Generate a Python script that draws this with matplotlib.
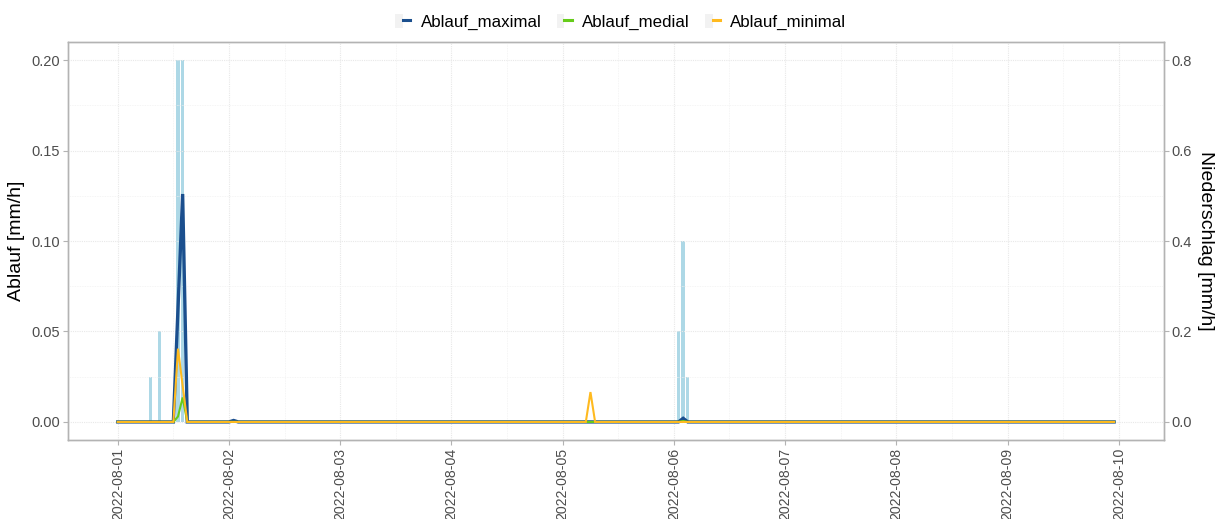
import pandas as pd
import matplotlib
matplotlib.use("Agg")
import matplotlib.pyplot as plt
import matplotlib.dates as mdates
from matplotlib.lines import Line2D
from matplotlib.patches import Patch
from matplotlib.legend_handler import HandlerTuple
from matplotlib.ticker import MultipleLocator

plt.rcParams["font.family"] = ["Liberation Sans", "DejaVu Sans"]

# hourly series, 2022-08-01 00:00 .. 2022-08-09 23:00 (all zero except listed hours)
start, end = "2022-08-01 00:00", "2022-08-09 23:00"

ablauf_max_t = ["2022-08-01 13:00", "2022-08-01 14:00", "2022-08-02 01:00", "2022-08-06 02:00"]
ablauf_max_v = [0.063, 0.126, 0.0008, 0.002]

ablauf_med_t = ["2022-08-01 13:00", "2022-08-01 14:00", "2022-08-06 02:00"]
ablauf_med_v = [0.003, 0.0135, 0.0005]

ablauf_min_t = ["2022-08-01 13:00", "2022-08-01 14:00", "2022-08-05 06:00"]
ablauf_min_v = [0.0405, 0.02, 0.0165]

niederschlag_t = ["2022-08-01 07:00", "2022-08-01 09:00", "2022-08-01 13:00", "2022-08-01 14:00",
                  "2022-08-06 01:00", "2022-08-06 02:00", "2022-08-06 03:00"]
niederschlag_v = [0.1, 0.2, 0.8, 0.8, 0.2, 0.4, 0.1]

series_names = ["Ablauf_maximal", "Ablauf_medial", "Ablauf_minimal"]
series_colors = ["#1B4F8E", "#66CC1A", "#FFBA1F"]
series_widths = [2.4, 1.5, 1.5]

time = pd.date_range(start, end, freq="h")


def hourly(stamps, values):
    s = pd.Series(0.0, index=time)
    s[pd.to_datetime(stamps)] = values
    return s


series = [hourly(ablauf_max_t, ablauf_max_v),
          hourly(ablauf_med_t, ablauf_med_v),
          hourly(ablauf_min_t, ablauf_min_v)]
rain = hourly(niederschlag_t, niederschlag_v)

fig = plt.figure(figsize=(12.22, 5.19), dpi=100)
ax = fig.add_axes([0.0556, 0.1522, 0.8969, 0.7668])
ax2 = ax.twinx()
ax2.set_zorder(ax.get_zorder() - 1)
ax.patch.set_visible(False)

grey_text = "#4D4D4D"
ax2.bar(rain.index, rain.values, width=0.03, color="#ADD8E6", zorder=2)

for s, name, c, lw in zip(series, series_names, series_colors, series_widths):
    ax.plot(s.index, s.values, color=c, lw=lw, label=name, zorder=3,
            solid_joinstyle="miter")

ylo, yhi = -0.01, 0.21
ax.set_ylim(ylo, yhi)
ax2.set_ylim(ylo * 4, yhi * 4)
span = time[-1] - time[0]
ax.set_xlim(time[0] - span * 0.05, time[-1] + span * 0.05)

ax.yaxis.set_major_locator(MultipleLocator(0.05))
ax.yaxis.set_minor_locator(MultipleLocator(0.025))
ax2.yaxis.set_major_locator(MultipleLocator(0.2))
ax.yaxis.set_major_formatter(plt.FuncFormatter(lambda v, p: f"{v:.2f}"))
ax2.yaxis.set_major_formatter(plt.FuncFormatter(lambda v, p: f"{v:.1f}"))
ax.xaxis.set_major_locator(mdates.DayLocator())
ax.xaxis.set_minor_locator(mdates.HourLocator(byhour=[12]))
ax.xaxis.set_major_formatter(mdates.DateFormatter("%Y-%m-%d"))

ax2.grid(False)
ax.grid(True, which="major", color="#E8E8E8", lw=0.8, ls=(0, (1, 1)))
ax.grid(True, which="minor", color="#F2F2F2", lw=0.6, ls=(0, (1, 1)))
ax.set_axisbelow(True)

for a in (ax, ax2):
    for sp in a.spines.values():
        sp.set_color("#B3B3B3")
        sp.set_linewidth(1.0)
    a.tick_params(which="major", colors="#B3B3B3", labelcolor=grey_text,
                  labelsize=10.5, length=3.5, width=0.8, pad=2)
    a.tick_params(which="minor", length=0)
ax.tick_params(axis="x", labelrotation=90, labelsize=10.2, pad=2)

ax.set_ylabel("Ablauf [mm/h]", fontsize=14, color="black", labelpad=5)
ax2.set_ylabel("Niederschlag [mm/h]", fontsize=14, color="black",
               rotation=270, labelpad=16)

handles = [(Patch(facecolor="#F2F2F2", edgecolor="none"),
            Line2D([], [], color=c, lw=2.2)) for c in series_colors]
fig.legend(handles, series_names, loc="center", bbox_to_anchor=(0.508, 0.958),
           ncol=3, frameon=False, fontsize=12.2, handlelength=0.9,
           handleheight=0.9, handletextpad=0.6, columnspacing=0.9,
           handler_map={tuple: HandlerTuple(ndivide=None, pad=0)})

fig.savefig("out.png", dpi=100)
